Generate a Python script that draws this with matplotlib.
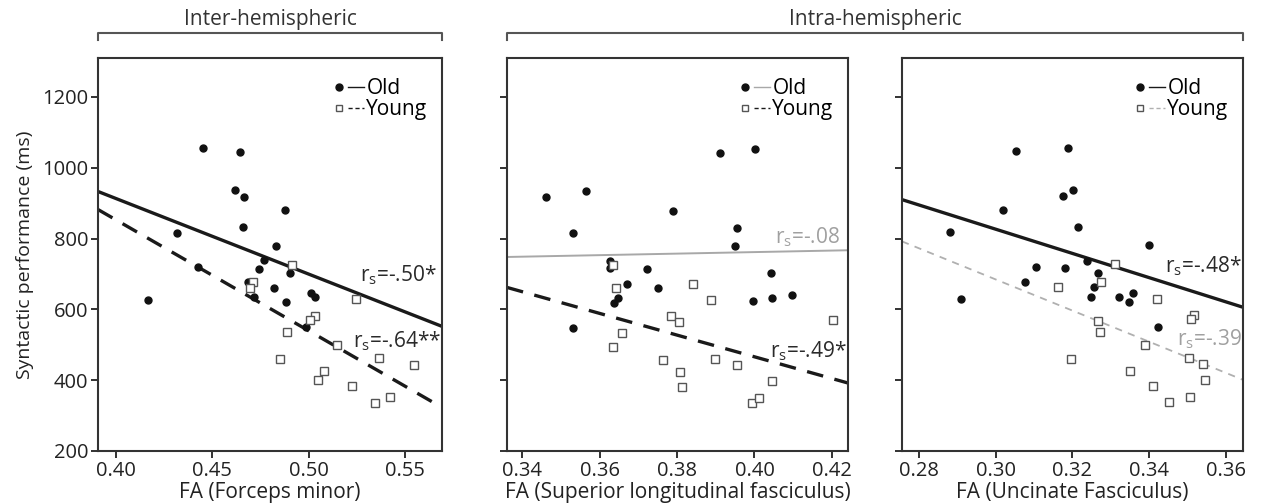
"""
FA vs syntactic performance, old vs young, three tracts.
"""
import matplotlib
matplotlib.use("Agg")
import matplotlib.pyplot as plt
from matplotlib.lines import Line2D
from matplotlib.legend_handler import HandlerTuple

plt.rcParams["font.family"] = ["Open Sans", "DejaVu Sans"]
plt.rcParams["mathtext.fontset"] = "custom"
plt.rcParams["mathtext.rm"] = "Open Sans"
plt.rcParams["mathtext.it"] = "Open Sans"

# --- data ---
# Forceps minor
fm_old_x = [0.445, 0.4645, 0.4618, 0.4666, 0.4874, 0.4659, 0.4318, 0.4830, 0.4765, 0.4742,
            0.4903, 0.4427, 0.4683, 0.4817, 0.4713, 0.5009, 0.5033, 0.4881, 0.4168, 0.4984]
fm_old_y = [1056, 1044, 937, 918, 881, 832, 817, 779, 739, 715,
            704, 720, 676, 661, 636, 646, 634, 621, 627, 549]
fm_young_x = [0.4910, 0.4708, 0.4697, 0.5246, 0.5033, 0.5007, 0.4889, 0.5145,
              0.4848, 0.5363, 0.5545, 0.5080, 0.5047, 0.5221, 0.5420, 0.5344]
fm_young_y = [726, 676, 661, 628, 581, 570, 535, 499, 459, 462, 444, 425, 400, 384, 352, 336]
fm_fit_x = [0.3907, 0.569]
fm_fit_old = [933, 552]
fm_fit_young = [882, 323]

# Superior longitudinal fasciculus
slf_old_x = [0.3462, 0.3565, 0.3530, 0.3530, 0.3912, 0.4002, 0.3789, 0.3956, 0.3950, 0.3627,
             0.3627, 0.3722, 0.3670, 0.3751, 0.3648, 0.3636, 0.4042, 0.3996, 0.4046, 0.4096]
slf_old_y = [916, 935, 816, 547, 1043, 1054, 878, 831, 778, 736,
             718, 714, 673, 659, 632, 619, 702, 625, 632, 642]
slf_young_x = [0.3634, 0.3642, 0.3840, 0.3888, 0.3785, 0.3804, 0.3658, 0.3634, 0.3763,
               0.3899, 0.3955, 0.3807, 0.3812, 0.4045, 0.3994, 0.4011, 0.4203]
slf_young_y = [725, 660, 673, 626, 581, 565, 533, 495, 458, 460, 443, 423, 382, 398, 335, 350, 571]
slf_fit_x = [0.336, 0.4242]
slf_fit_old = [748, 767]
slf_fit_young = [662, 392]

# Uncinate fasciculus
uf_old_x = [0.3053, 0.3188, 0.3203, 0.3176, 0.3019, 0.3214, 0.2882, 0.3400, 0.3106, 0.3182,
            0.3237, 0.3267, 0.3076, 0.3256, 0.3250, 0.3322, 0.3358, 0.3349, 0.2909, 0.3424]
uf_old_y = [1046, 1057, 938, 920, 881, 834, 819, 781, 720, 717,
            738, 704, 676, 663, 636, 636, 647, 621, 628, 551]
uf_young_x = [0.3310, 0.3276, 0.3163, 0.3420, 0.3518, 0.3510, 0.3266, 0.3273, 0.3390,
              0.3197, 0.3505, 0.3540, 0.3350, 0.3547, 0.3411, 0.3507, 0.3452]
uf_young_y = [728, 676, 663, 629, 584, 574, 567, 536, 499, 460, 464, 446, 425, 401, 385, 353, 337]
uf_fit_x = [0.2756, 0.3645]
uf_fit_old = [910, 606]
uf_fit_young = [792, 401]

xlabels = ["FA (Forceps minor)", "FA (Superior longitudinal fasciculus)", "FA (Uncinate Fasciculus)"]
xticks = [[0.40, 0.45, 0.50, 0.55], [0.34, 0.36, 0.38, 0.40, 0.42], [0.28, 0.30, 0.32, 0.34, 0.36]]
r_old = ["-.50*", "-.08", "-.48*"]
r_young = ["-.64**", "-.49*", "-.39"]

# --- styling per panel ---
W, H = 1261, 503
boxes = [(98, 442), (507, 848), (902, 1243)]
top_px, bot_px = 58, 451
xlims = [(0.3907, 0.569), (0.336, 0.4242), (0.2756, 0.3645)]
old_line = [dict(color="#1a1a1a", lw=2.4, ls="-"),
            dict(color="#a8a8a8", lw=1.4, ls="-"),
            dict(color="#1a1a1a", lw=2.4, ls="-")]
young_line = [dict(color="#1a1a1a", lw=2.4, ls=(0, (5, 3.5))),
              dict(color="#1a1a1a", lw=2.4, ls=(0, (5, 3.5))),
              dict(color="#b0b0b0", lw=1.3, ls=(0, (4, 3.5)))]
old_txt = [((0.5265, 696), "#2a2a2a"), ((0.4052, 803), "#a0a0a0"), ((0.3441, 722), "#2a2a2a")]
young_txt = [((0.5228, 509), "#2a2a2a"), ((0.4039, 483), "#2a2a2a"), ((0.3472, 515), "#a0a0a0")]

panels = [
    (fm_old_x, fm_old_y, fm_young_x, fm_young_y, fm_fit_x, fm_fit_old, fm_fit_young),
    (slf_old_x, slf_old_y, slf_young_x, slf_young_y, slf_fit_x, slf_fit_old, slf_fit_young),
    (uf_old_x, uf_old_y, uf_young_x, uf_young_y, uf_fit_x, uf_fit_old, uf_fit_young),
]

fig = plt.figure(figsize=(W / 100, H / 100), dpi=100)
spine_col = "#333333"

for i, (ox, oy, yx, yy, fx, fo, fy) in enumerate(panels):
    l, r = boxes[i]
    ax = fig.add_axes([l / W, 1 - bot_px / H, (r - l) / W, (bot_px - top_px) / H])
    ax.plot(fx, fo, zorder=2, **old_line[i])
    ax.plot(fx, fy, zorder=2, **young_line[i])
    ax.plot(ox, oy, "o", ms=5, color="#111111", mec="#111111", zorder=3)
    ax.plot(yx, yy, "s", ms=5.5, mfc="white", mec="#555555", mew=1.0, zorder=3)

    ax.set_xlim(*xlims[i])
    ax.set_ylim(200, 1310)
    ax.set_xticks(xticks[i])
    ax.set_xticklabels([f"{t:.2f}" for t in xticks[i]])
    ax.set_yticks([200, 400, 600, 800, 1000, 1200])
    if i == 0:
        ax.set_ylabel("Syntactic performance (ms)", fontsize=14, color="#222222", labelpad=6)
    else:
        ax.set_yticklabels([])
    ax.set_xlabel(xlabels[i], fontsize=15, color="#222222", labelpad=1)
    ax.tick_params(labelsize=14.5, colors="#222222", length=5, width=1.3, pad=2)
    for s in ax.spines.values():
        s.set_color(spine_col)
        s.set_linewidth(1.5)

    (tx, ty), c = old_txt[i]
    ax.text(tx, ty, r"r$_{s}$=" + r_old[i], color=c, fontsize=15, va="center", ha="left")
    (tx, ty), c = young_txt[i]
    ax.text(tx, ty, r"r$_{s}$=" + r_young[i], color=c, fontsize=15, va="center", ha="left")

    h_old = (Line2D([], [], marker="o", ms=5, color="#111111", ls="none"),
             Line2D([], [], color=old_line[i]["color"], lw=1.0))
    h_young = (Line2D([], [], marker="s", ms=4.5, mfc="white", mec="#555555", ls="none"),
               Line2D([], [], color=young_line[i]["color"], lw=1.0, ls=(0, (3, 2))))
    ax.legend([h_old, h_young], ["Old", "Young"], handler_map={tuple: HandlerTuple(ndivide=None, pad=0)},
              loc="upper right", bbox_to_anchor=(1.0, 0.985), frameon=False, fontsize=15,
              handlelength=1.6, handletextpad=0.1, labelspacing=0.0, borderaxespad=0.3)

# group brackets above panels
bracket_col = "#555555"
groups = [("Inter-hemispheric", boxes[0][0], boxes[0][1]),
          ("Intra-hemispheric", boxes[1][0], boxes[2][1])]
for label, l, r in groups:
    y0, y1 = 1 - 33 / H, 1 - 40 / H
    fig.add_artist(Line2D([l / W, l / W, r / W, r / W], [y1, y0, y0, y1],
                          color=bracket_col, lw=1.5, transform=fig.transFigure))
    fig.text((l + r) / 2 / W, 1 - 19 / H, label, ha="center", va="center",
             fontsize=15, color="#333333")

plt.savefig("out.png", dpi=100)
plt.close()
